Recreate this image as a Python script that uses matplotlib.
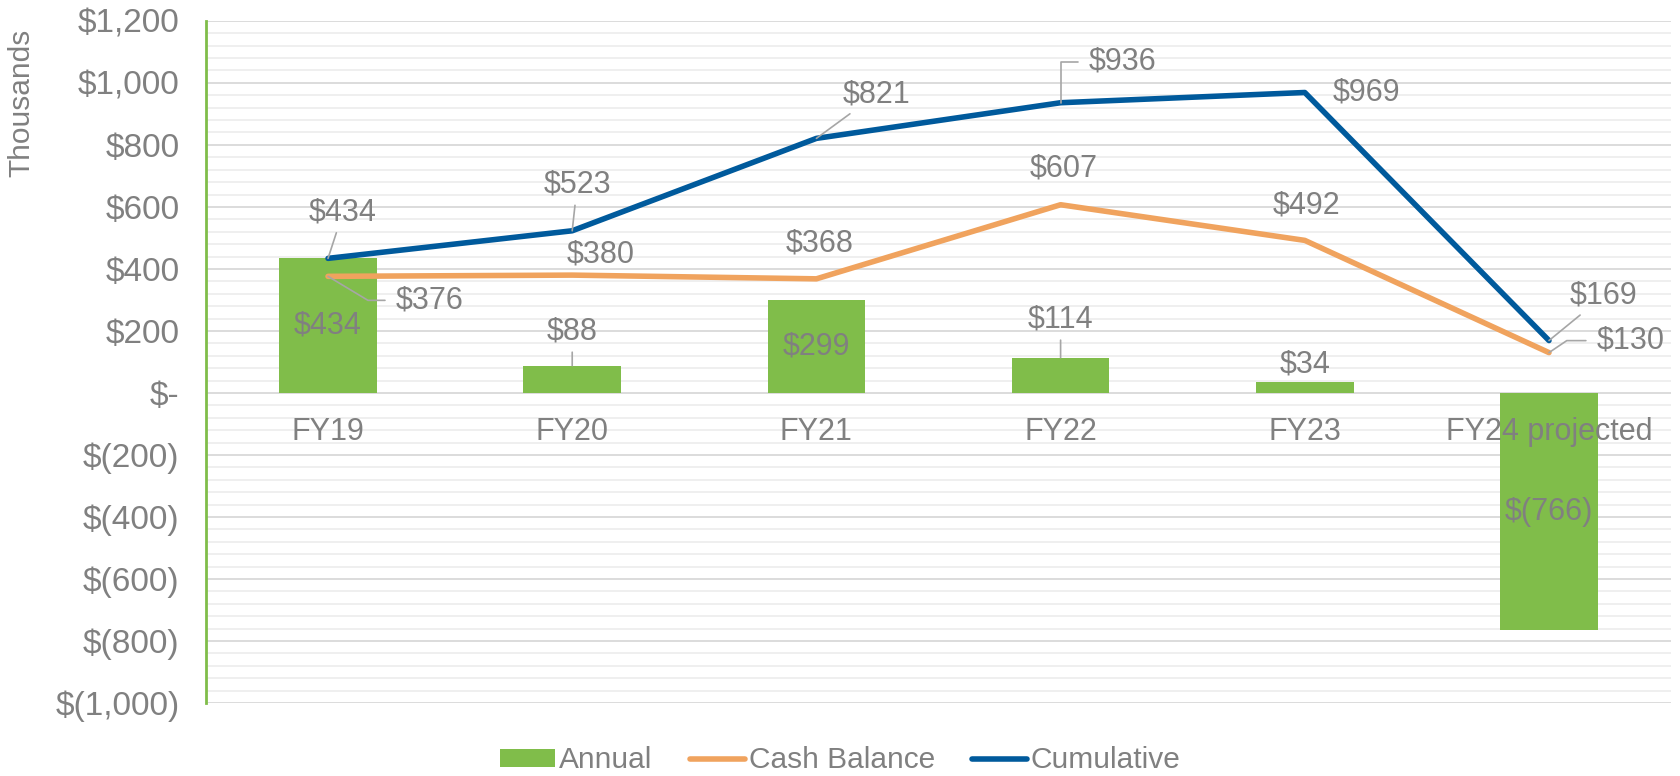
import matplotlib
matplotlib.use('Agg')
import matplotlib.pyplot as plt
from matplotlib.ticker import MultipleLocator, FuncFormatter
from matplotlib.patches import Patch
from matplotlib.lines import Line2D
from matplotlib import font_manager

# --- data (thousands of $) ---
years = ['FY19', 'FY20', 'FY21', 'FY22', 'FY23', 'FY24 projected']
annual = [434, 88, 299, 114, 34, -766]
cash_balance = [376, 380, 368, 607, 492, 130]
cumulative = [434, 523, 821, 936, 969, 169]

GREEN = '#80BD4A'
ORANGE = '#F0A35E'
BLUE = '#005A9C'
GRAY = '#808080'
LEADER = '#A6A6A6'

names = {f.name for f in font_manager.fontManager.ttflist}
FONT = 'Liberation Sans' if 'Liberation Sans' in names else 'DejaVu Sans'
plt.rcParams['font.family'] = [FONT, 'DejaVu Sans']


def money(v, _pos=None):
    if v == 0:
        return '$-'
    if v < 0:
        return f'$({-v:,.0f})'
    return f'${v:,.0f}'


fig = plt.figure(figsize=(16.81, 7.76), dpi=100)
ax = fig.add_axes([0.1225, 0.0941, 0.8716, 0.879])

x = list(range(len(years)))
ax.bar(x, annual, width=0.40, color=GREEN, zorder=2)
ax.plot(x, cash_balance, color=ORANGE, lw=4.0, zorder=3, solid_capstyle='round')
ax.plot(x, cumulative, color=BLUE, lw=4.0, zorder=4, solid_capstyle='round')

ax.set_xlim(-0.5, 5.5)
ax.set_ylim(-1000, 1200)
ax.yaxis.set_major_locator(MultipleLocator(200))
ax.yaxis.set_minor_locator(MultipleLocator(40))
ax.yaxis.set_major_formatter(FuncFormatter(money))
ax.grid(axis='y', which='major', color='#D9D9D9', lw=1.3)
ax.grid(axis='y', which='minor', color='#EEEEEE', lw=1.3)
ax.set_axisbelow(True)
ax.tick_params(axis='y', which='both', length=0, labelsize=24, labelcolor=GRAY, pad=19)
ax.tick_params(axis='x', length=0, labelbottom=False)
for side in ['top', 'right', 'bottom']:
    ax.spines[side].set_visible(False)
ax.spines['left'].set_color(GREEN)
ax.spines['left'].set_linewidth(2)

fig.text(0.013, 0.867, 'Thousands', rotation=90, ha='center', va='center',
         fontsize=21.5, color=GRAY)

# category labels sit just under the zero line, drawn above the bars
for i, lab in enumerate(years):
    ax.annotate(lab, (i, 0), xytext=(0, -39), textcoords='offset pixels',
                ha='center', va='center', fontsize=22, color=GRAY, zorder=6)

txt = dict(textcoords='offset pixels', ha='center', va='center',
           fontsize=22, color=GRAY, zorder=7)
lead = dict(arrowstyle='-', color=LEADER, lw=1.2, shrinkA=2, shrinkB=0)

# bar labels
bar_offsets = [None, (0, 34), None, (0, 38), (0, 18), None]
bar_leader = [False, True, False, True, False, False]
for i, v in enumerate(annual):
    if bar_offsets[i] is None:
        ax.annotate(money(v), (i, v / 2), xytext=(0, 0), **txt)
    else:
        ax.annotate(money(v), (i, v), xytext=bar_offsets[i],
                    arrowprops=lead if bar_leader[i] else None, **txt)

# cumulative labels
cum_offsets = [(15, 46), (5, 46), (60, 44), (62, 41), (62, 0), (55, 45)]
cum_leader = [True, True, True, 'elbow', False, True]
for i, v in enumerate(cumulative):
    ap = None
    if cum_leader[i] == 'elbow':
        ap = dict(lead, relpos=(0, 0.5), shrinkA=6,
                  connectionstyle='angle,angleA=0,angleB=90,rad=0')
    elif cum_leader[i]:
        ap = lead
    ax.annotate(money(v), (i, v), xytext=cum_offsets[i], arrowprops=ap, **txt)

# cash balance labels
cash_offsets = [(102, -24), (28, 21), (3, 35), (3, 36), (2, 35), (82, 12)]
cash_leader = [-31, None, None, None, None, 34]
for i, v in enumerate(cash_balance):
    ap = None
    if cash_leader[i] is not None:
        ap = dict(lead, relpos=(0, 0.5), shrinkA=6,
                  connectionstyle=f'angle,angleA=0,angleB={cash_leader[i]},rad=0')
    ax.annotate(money(v), (i, v), xytext=cash_offsets[i], arrowprops=ap, **txt)

handles = [Patch(facecolor=GREEN, edgecolor='none'),
           Line2D([], [], color=ORANGE, lw=4.0, solid_capstyle='round'),
           Line2D([], [], color=BLUE, lw=4.0, solid_capstyle='round')]
fig.legend(handles, ['Annual', 'Cash Balance', 'Cumulative'], loc='center',
           bbox_to_anchor=(0.5, 0.02), ncol=3, frameon=False,
           prop={'size': 21.5}, labelcolor=GRAY,
           handlelength=1.85, handleheight=0.57, handletextpad=0.12,
           columnspacing=1.25)

fig.savefig('out.png', dpi=100)
